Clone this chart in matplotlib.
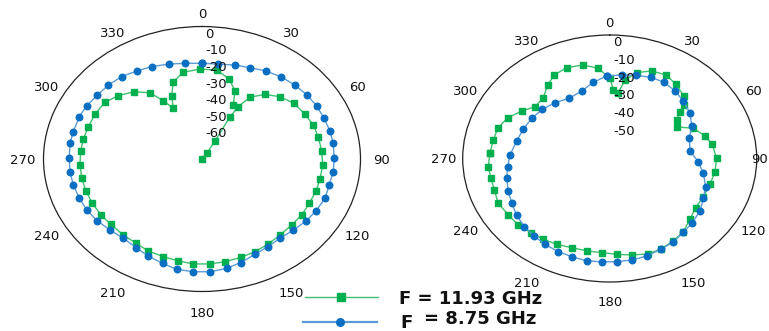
import numpy as np
import matplotlib
matplotlib.use("Agg")
import matplotlib.pyplot as plt
from matplotlib.lines import Line2D

# ---------------- data (angle in degrees, clockwise from top; value in dB) -------------
theta_labels = [0, 30, 60, 90, 120, 150, 180, 210, 240, 270, 300, 330]
left_r_labels = [0, -10, -20, -30, -40, -50, -60]
right_r_labels = [0, -10, -20, -30, -40, -50]
left_rmin = -80
right_rmin = -70

# left plot, F = 8.75 GHz
left_blue_theta = [0, 8.2, 16.4, 23.7, 31.3, 38.7, 46.5, 53.8, 60.9, 68.3, 75.4, 81.9, 89.5,
                   96.6, 103.7, 110.9, 118.6, 125.5, 132.9, 140.5, 148, 155.1, 162.7, 169.3,
                   176.6, 183.7, 190.9, 197.5, 204.8, 211.9, 219.7, 227.3, 234.7, 242.1, 249,
                   256.4, 263.4, 270.3, 278, 284.2, 292.4, 298.9, 306.2, 313.4, 320.8, 328.2,
                   335.5, 343.8, 351.6, 360]
left_blue_db = [-22.2, -22.1, -20.9, -19.8, -17.8, -16.4, -15.2, -14.5, -13.8, -13.7, -13.2,
                -13.1, -13.3, -13.3, -13.9, -13.5, -14.5, -15.5, -17.0, -18.0, -17.5, -16.5,
                -14.5, -12.8, -11.8, -11.8, -12.2, -13.9, -15.4, -17.0, -17.8, -16.8, -15.3,
                -14.2, -13.7, -13.2, -12.9, -13.0, -12.7, -13.0, -13.0, -13.5, -14.6, -15.0,
                -15.8, -17.5, -18.7, -20.3, -21.6, -22.2]

# left plot, F = 11.93 GHz
left_green_theta = [30, 34.6, 31.1, 29, 30.1, 33.0, 39.1, 46.3, 54.2, 62.6, 69.9, 77.4, 85.5,
                    93.4, 101.5, 108.6, 116.3, 123.9, 131.3, 139.4, 147.3, 154.5, 161.6, 169.4,
                    176.4, 184, 191, 198.3, 206, 213.2, 220.9, 229.4, 236.4, 244.2, 251.7,
                    259.1, 266.7, 274.5, 281.4, 288.8, 296.5, 304.9, 312.2, 319.9, 326.7, 331,
                    334.7, 338.2, 342.8, 349.8, 358.9, 367.9, 375.9, 382.1, 385.8]
left_green_db = [-80, -75.8, -67.3, -50.8, -43.5, -35.5, -29.7, -25.6, -22.6, -21.4, -20.2,
                 -19.8, -19.4, -19.0, -19.2, -19.3, -19.6, -19.4, -19.7, -19.5, -18.7, -18.0,
                 -17.4, -16.9, -16.5, -16.5, -17.3, -17.9, -18.2, -19.2, -19.3, -19.4, -18.8,
                 -18.6, -18.3, -18.2, -18.3, -18.6, -18.9, -19.4, -19.6, -20.2, -23.0, -26.9,
                 -32.2, -39.8, -46.1, -38.8, -31.1, -26.8, -25.7, -25.8, -29.8, -35.7, -43.8]

# right plot, F = 8.75 GHz
right_blue_theta = [358.3, 366.9, 374.8, 383.2, 391, 399.1, 407.1, 416.2, 424.8, 433.1, 443.6,
                    452.5, 460.7, 469.3, 476.8, 484.7, 492.8, 500, 507.3, 514.6, 522.3, 529.7,
                    536.7, 543.7, 550.7, 558, 564.9, 572.3, 579.2, 586.5, 594.2, 601.4, 609.1,
                    617.1, 624.6, 632.4, 642.8, 651.9, 661.5, 670.9, 680.5, 690.6, 700.8,
                    709.7, 718.3]
right_blue_db = [-23.2, -22.3, -21.1, -20.0, -19.6, -20.7, -22.1, -24.0, -26.8, -30.4, -31.5,
                 -27.8, -24.6, -21.6, -20.0, -17.7, -16.4, -15.4, -13.9, -13.0, -12.0, -11.5,
                 -11.4, -11.3, -11.0, -11.5, -11.8, -12.4, -13.2, -13.9, -15.3, -16.9, -18.3,
                 -19.7, -21.2, -22.5, -24.6, -25.6, -26.4, -27.5, -29.0, -30.8, -29.5, -26.1,
                 -23.2]

# right plot, F = 11.93 GHz
right_green_theta = [273.3, 280.7, 287.8, 295.4, 302.7, 309.5, 317.4, 324.7, 330.7, 338.3,
                     346.6, 353.9, 360.2, 362.5, 366.3, 369.3, 374.8, 382, 389.5, 396.9,
                     404.9, 409.4, 411.7, 415.6, 420.8, 426.7, 434.3, 440.6, 450, 458.5, 467,
                     475.9, 484.2, 491.9, 499.8, 507, 514.5, 521.5, 528.8, 536.2, 543.8, 551.5,
                     559.7, 567.4, 574.6, 581.7, 589.1, 596.5, 604.4, 612, 618.8, 625.4, 633.3]
right_green_db = [-12.9, -13.6, -14.0, -16.2, -20.2, -23.9, -23.2, -19.0, -15.8, -14.6, -15.5,
                  -18.6, -24.6, -31.1, -32.5, -24.9, -19.6, -16.5, -15.6, -17.4, -20.0, -23.4,
                  -27.4, -31.3, -33.4, -26.6, -22.9, -20.5, -19.1, -19.3, -20.1, -20.4, -20.5,
                  -18.6, -15.7, -14.3, -13.2, -12.9, -14.3, -15.5, -16.5, -16.5, -16.3, -15.2,
                  -14.4, -13.7, -12.4, -12.1, -11.2, -12.2, -12.4, -12.0, -12.9]

series_labels = ["F = 11.93 GHz", "F = 8.75 GHz"]

# ---------------- styling ----------------
W, H = 769, 331
GREEN_M = "#00B050"
GREEN_L = "#3EC06E"
BLUE_M = "#0A6FC2"
BLUE_L = "#5A9BD8"
TXT = "#111111"
FONT = "DejaVu Sans"

fig = plt.figure(figsize=(W / 100, H / 100), dpi=100)


def px_rect(x0, x1, y0, y1):
    return [x0 / W, 1 - y1 / H, (x1 - x0) / W, (y1 - y0) / H]


def make_polar(rect, rmin, rlabels, green, blue, right_limit=None):
    ax = fig.add_axes(rect, projection="polar")
    ax.set_aspect("auto")
    ax.set_theta_zero_location("N")
    ax.set_theta_direction(-1)
    ax.set_rlim(rmin, 0)
    ax.grid(False)
    ax.set_xticks([])
    ax.set_yticks([])
    ax.patch.set_alpha(0)
    ax.spines["polar"].set_color("#222222")
    ax.spines["polar"].set_linewidth(0.9)

    gt, gd = green
    ax.plot(np.deg2rad(gt), gd, color=GREEN_L, lw=1.0, marker="s", ms=5.0,
            mfc=GREEN_M, mec=GREEN_M, zorder=3, clip_on=False)
    bt, bd = blue
    ax.plot(np.deg2rad(bt), bd, color=BLUE_L, lw=1.0, marker="o", ms=4.7,
            mfc=BLUE_M, mec=BLUE_M, zorder=4, clip_on=False)

    for ang in theta_labels:
        a = np.deg2rad(ang)
        c = np.cos(a)
        ky = 1.10 if c > 0.01 else 1.16
        x = 0.5 + 0.5 * 1.13 * np.sin(a)
        ha = "center"
        if right_limit is not None and ang == 90:
            # keep the label inside the picture
            x, ha = right_limit, "right"
        ax.text(x, 0.5 + 0.5 * ky * c - 0.004,
                str(ang), transform=ax.transAxes, ha=ha, va="center",
                fontsize=9.5, family=FONT, color=TXT, clip_on=False)

    for v in rlabels:
        ax.annotate(str(v), xy=(0, v), xytext=(2.4, -1.0), textcoords="offset points",
                    ha="left", va="top", fontsize=9.5, family=FONT, color=TXT,
                    zorder=10)
    return ax


make_polar(px_rect(43.5, 360.5, 26.5, 291.5), left_rmin, left_r_labels,
           (left_green_theta, left_green_db), (left_blue_theta, left_blue_db))
make_polar(px_rect(462.7, 756.7, 35, 282), right_rmin, right_r_labels,
           (right_green_theta, right_green_db), (right_blue_theta, right_blue_db),
           right_limit=(767.5 - 462.7) / (756.7 - 462.7))

# ---------------- legend ----------------
def fx(x):
    return x / W


def fy(y):
    return 1 - y / H


fig.add_artist(Line2D([fx(305), fx(378)], [fy(296.7)] * 2, color=GREEN_L, lw=1.0,
                      transform=fig.transFigure))
fig.add_artist(Line2D([fx(341)], [fy(296.7)], color=GREEN_M, marker="s", ms=5.5,
                      ls="none", transform=fig.transFigure))
fig.add_artist(Line2D([fx(303), fx(377)], [fy(321.7)] * 2, color=BLUE_L, lw=1.6,
                      transform=fig.transFigure))
fig.add_artist(Line2D([fx(340)], [fy(321.7)], color=BLUE_M, marker="o", ms=5.5,
                      ls="none", transform=fig.transFigure))

fig.text(fx(399), fy(299.5), series_labels[0], ha="left", va="center", fontsize=13,
         fontweight="bold", family=FONT, color=TXT)
f_part, rest_part = series_labels[1].split(" ", 1)
fig.text(fx(400), fy(322.5), f_part, ha="left", va="center", fontsize=13,
         fontweight="bold", family=FONT, color=TXT)
fig.text(fx(424), fy(319.5), rest_part, ha="left", va="center", fontsize=13,
         fontweight="bold", family=FONT, color=TXT)

fig.savefig("out.png", dpi=100)
